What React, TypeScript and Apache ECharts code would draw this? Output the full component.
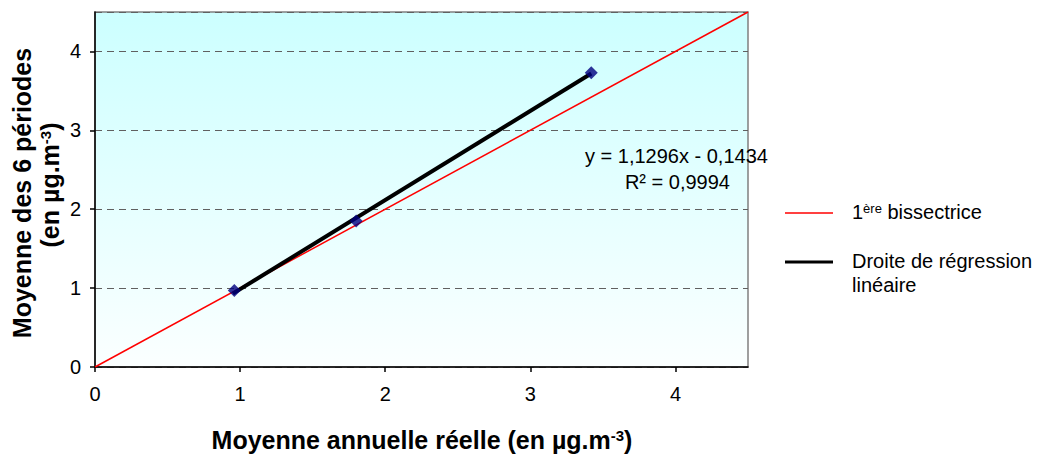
import React, { useEffect, useRef } from "react";
import * as echarts from "echarts";

const measuredX = [0.96, 1.8, 3.42];
const periodMeanY = [0.97, 1.85, 3.73];
const regressionX = [0.95, 3.42];
const regressionY = [0.93, 3.72];
const bisectorX = [0, 4.5];
const bisectorY = [0, 4.5];
const xTicks = [0, 1, 2, 3, 4];
const equationText = "y = 1,1296x - 0,1434";
const r2Text = "R² = 0,9994";
const legendNames = ["1ère bissectrice", "Droite de régression linéaire"];

const FONT = "'Liberation Sans', Arial, sans-serif";

export default function App() {
  const ref = useRef<HTMLDivElement>(null);
  useEffect(() => {
    if (!ref.current) return;
    const chart = echarts.init(ref.current, null, { renderer: "svg" });
    const sup = { fontSize: 13, fontFamily: FONT, verticalAlign: "top", color: "#000" } as any;
    const boldTitle = { fontSize: 25, fontWeight: "bold", fontFamily: FONT, color: "#000" };
    const boldSup = { fontSize: 15, fontWeight: "bold", fontFamily: FONT, color: "#000", verticalAlign: "top" };
    const option: any = {
      animation: false,
      backgroundColor: "#ffffff",
      grid: {
        left: 95,
        top: 12,
        width: 653,
        height: 355,
        show: true,
        borderColor: "#808080",
        borderWidth: 1.5,
        backgroundColor: new echarts.graphic.LinearGradient(0, 0, 0, 1, [
          { offset: 0, color: "#ccffff" },
          { offset: 1, color: "#fbffff" },
        ]),
      },
      xAxis: {
        type: "value",
        min: xTicks[0],
        max: 4.5,
        interval: 1,
        axisLine: { show: true, onZero: false, lineStyle: { color: "#000", width: 1.5 } },
        axisTick: { show: true, length: 5, lineStyle: { color: "#000", width: 1.5 } },
        axisLabel: { showMaxLabel: false, fontSize: 20, color: "#000", margin: 17, fontFamily: FONT },
        splitLine: { show: false },
      },
      yAxis: {
        type: "value",
        min: 0,
        max: 4.5,
        interval: 1,
        axisLine: { show: true, onZero: false, lineStyle: { color: "#000", width: 1.5 } },
        axisTick: { show: true, length: 5, lineStyle: { color: "#000", width: 1.5 } },
        axisLabel: { showMaxLabel: false, fontSize: 20, color: "#000", margin: 14, fontFamily: FONT },
        splitLine: { show: true, lineStyle: { color: "#606060", type: [7, 5], width: 1 } },
      },
      series: [
        {
          name: legendNames[0],
          type: "line",
          data: bisectorX.map((x, i) => [x, bisectorY[i]]),
          showSymbol: false,
          symbol: "none",
          lineStyle: { color: "#ff0000", width: 1.5 },
          z: 2,
        },
        {
          name: legendNames[1],
          type: "line",
          data: regressionX.map((x, i) => [x, regressionY[i]]),
          showSymbol: false,
          symbol: "none",
          lineStyle: { color: "#000000", width: 4 },
          z: 3,
        },
        {
          name: "points",
          type: "scatter",
          data: measuredX.map((x, i) => [x, periodMeanY[i]]),
          symbol: "diamond",
          symbolSize: 13,
          itemStyle: { color: "#000080" },
          z: 4,
        },
      ],
      graphic: [
        {
          type: "text",
          x: 585,
          y: 156,
          style: { text: equationText, font: `20px ${FONT}`, fill: "#000", verticalAlign: "middle", align: "left" },
          z: 10,
        },
        {
          type: "text",
          x: 730,
          y: 182,
          style: { text: r2Text, font: `20px ${FONT}`, fill: "#000", verticalAlign: "middle", align: "right" },
          z: 10,
        },
        {
          type: "line",
          shape: { x1: 785, y1: 213, x2: 833, y2: 213 },
          style: { stroke: "#ff0000", lineWidth: 1.5 },
        },
        {
          type: "text",
          x: 852,
          y: 212,
          style: {
            text: "{n|1}{s|ère}{n| bissectrice}",
            verticalAlign: "middle",
            rich: { n: { fontSize: 20, fontFamily: FONT, color: "#000" }, s: sup },
          },
        },
        {
          type: "line",
          shape: { x1: 785, y1: 262, x2: 833, y2: 262 },
          style: { stroke: "#000000", lineWidth: 3 },
        },
        {
          type: "text",
          x: 852,
          y: 273,
          style: {
            text: "Droite de régression\nlinéaire",
            font: `20px ${FONT}`,
            fill: "#000",
            lineHeight: 24,
            verticalAlign: "middle",
          },
        },
        {
          type: "text",
          x: 422,
          y: 440,
          style: {
            text: "{b|Moyenne annuelle réelle (en µg.m}{s|-3}{b|)}",
            align: "center",
            verticalAlign: "middle",
            rich: { b: boldTitle, s: boldSup },
          },
        },
        {
          type: "text",
          x: 22,
          y: 193,
          rotation: Math.PI / 2,
          style: {
            text: "Moyenne des 6 périodes",
            font: `bold 25px ${FONT}`,
            fill: "#000",
            align: "center",
            verticalAlign: "middle",
          },
        },
        {
          type: "text",
          x: 50,
          y: 185,
          rotation: Math.PI / 2,
          style: {
            text: "{b|(en µg.m}{s|-3}{b|)}",
            align: "center",
            verticalAlign: "middle",
            rich: { b: boldTitle, s: boldSup },
          },
        },
      ],
    };
    chart.setOption(option);
    return () => chart.dispose();
  }, []);
  return (
    <div
      ref={ref}
      style={{ position: "absolute", left: 0, top: 0, width: 1056, height: 457 }}
    />
  );
}
